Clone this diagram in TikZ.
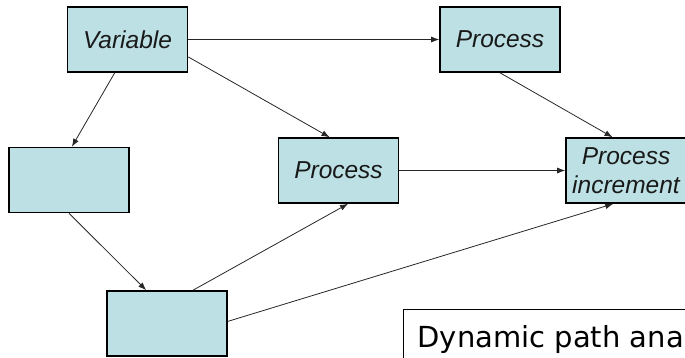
\documentclass[tikz,border=0pt]{standalone}
\usepackage{fontspec}
\setmainfont{Liberation Sans}
\newfontfamily\titlefont{DejaVu Sans}
\usetikzlibrary{arrows.meta}
\definecolor{boxfill}{RGB}{188,224,227}

\begin{document}
\begin{tikzpicture}[x=1pt, y=-1pt, >={Latex[length=8pt,width=6pt]},
		box/.style={draw=black, line width=1.6pt, fill=boxfill, minimum width=120pt, minimum height=65pt,
			inner sep=0pt, align=center, text=black!90, font=\fontsize{24.5}{29}\selectfont\itshape},
		link/.style={->, line width=0.8pt, draw=black!85},
		titlebox/.style={draw=black, line width=1.2pt, fill=white, anchor=north west, inner xsep=14pt,
			inner ysep=16pt, text depth=30pt, font=\titlefont\fontsize{29}{34}\selectfont}]
				% 1. 画布范围
				\useasboundingbox (0,0) rectangle (685,357);
				
				% 2. 方框
				\node[box] (var) at (127.5,39.5) {Variable};
				\node[box] (ptop) at (500,39.5) {Process};
				\node[box] (bl) at (69,180) {};
				\node[box] (pmid) at (338.5,170.5) {Process};
				\node[box] (inc) at (626,170.5) {Process\\increment};
				\node[box] (bb) at (167,323.5) {};
				
				% 3. 连线
				\draw[link] (var.east) -- (ptop.west);
				\draw[link] (var.-16) -- (pmid.105);
				\draw[link] (var.249) -- (bl.85);
				\draw[link] (ptop.south) -- (inc.112);
				\draw[link] (pmid.east) -- (inc.west);
				\draw[link] (bl.south) -- (bb.122);
				\draw[link] (bb.52) -- (pmid.-74);
				\draw[link] (bb.2) -- (inc.249);
				
				% 4. 标题框
				\node[titlebox] (title) at (403,309) {Dynamic path ana};
\end{tikzpicture}
\end{document}
